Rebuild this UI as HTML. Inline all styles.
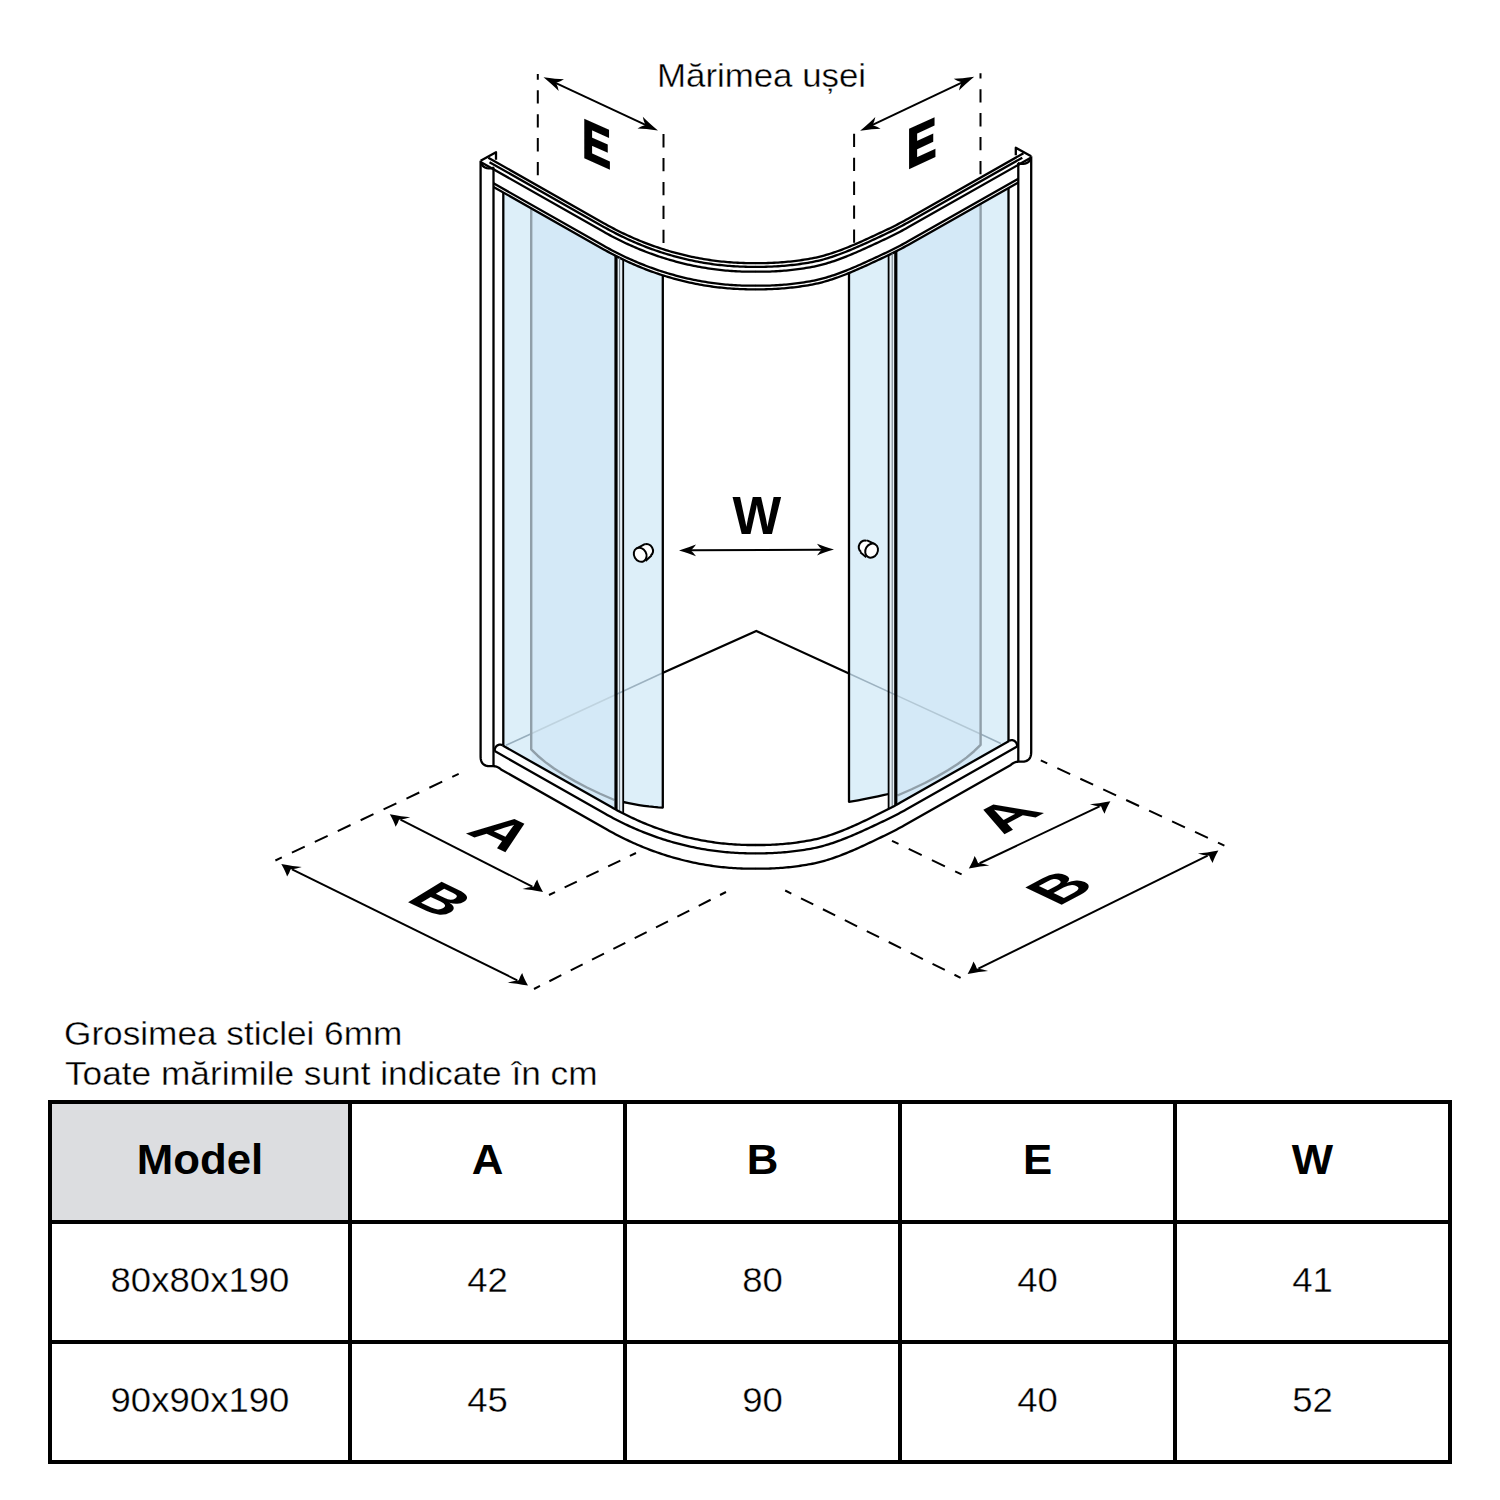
<!DOCTYPE html>
<html><head><meta charset="utf-8"><style>html,body{margin:0;padding:0;background:#fff;}svg{display:block}</style></head>
<body><svg width="1500" height="1500" viewBox="0 0 1500 1500">
<rect width="1500" height="1500" fill="#fff"/>
<path d="M503.3,192.45 L531.2,208.27 531.2,761.65 503.3,745.83 Z" fill="#ddeff9"/>
<path d="M531.2,208.27 L603.74,249.4 607.74,251.63 611.74,253.79 615.74,255.87 616,256 616,809.68 615.35,809.32 611.35,807.09 531.2,761.65 Z" fill="#d4e9f7"/>
<path d="M617,256.51 L623.2,259.57 623.2,813.47 617,810.22 Z" fill="#e6eff5"/>
<path d="M623.2,259.57 L626.2,260.99 629.2,262.37 632.2,263.71 635.2,265.02 638.2,266.29 641.2,267.52 644.2,268.71 647.2,269.87 650.2,270.99 653.2,272.08 656.2,273.13 659.2,274.15 662.2,275.13 662.8,275.32 662.8,807.6 658.29,807.34 653.65,806.95 648.89,806.44 644,805.8 638.99,805.04 633.85,804.15 628.59,803.14 623.2,802 Z" fill="#ddeff9"/>
<path d="M1008.5,187.95 L980.6,203.77 980.6,757.15 1008.5,741.33 Z" fill="#ddeff9"/>
<path d="M980.6,203.77 L908.06,244.9 904.06,247.13 900.06,249.29 896.06,251.37 895.8,251.5 895.8,805.18 896.45,804.82 900.45,802.59 980.6,757.15 Z" fill="#d4e9f7"/>
<path d="M894.8,252.01 L888.6,255.07 888.6,808.97 894.8,805.72 Z" fill="#e6eff5"/>
<path d="M888.6,255.07 L885.6,256.49 882.6,257.9 879.6,259.3 876.6,260.71 873.6,262.11 870.6,263.5 867.6,264.88 864.6,266.25 861.6,267.6 858.6,268.93 855.6,270.24 852.6,271.52 849.6,272.77 849,273.01 849,801.8 853.51,801.13 858.15,800.34 862.91,799.45 867.8,798.46 872.81,797.4 877.95,796.29 883.21,795.15 888.6,794 Z" fill="#ddeff9"/>
<path d="M506,745.3 L531.2,733.66" stroke="#98aebd" stroke-width="1.6" fill="none"/>
<path d="M531.2,733.66 L616,694.48" stroke="#bfd3df" stroke-width="1.6" fill="none"/>
<path d="M616,694.48 L662.5,673" stroke="#9db2c0" stroke-width="1.6" fill="none"/>
<path d="M848.4,673.2 L896,695.13" stroke="#9db2c0" stroke-width="1.6" fill="none"/>
<path d="M896,695.13 L980.5,734.05" stroke="#b3c8d5" stroke-width="1.6" fill="none"/>
<path d="M980.5,734.05 L1000.8,743.4" stroke="#98aebd" stroke-width="1.6" fill="none"/>
<path d="M662.5,673 L756.3,631 L848.4,673.2" stroke="#000" stroke-width="2.2" fill="none" stroke-linejoin="miter"/>
<path d="M531.2,208.27 L531.2,749.3 537.71,755.71 545.33,762.11 554.06,768.48 563.9,774.83 574.86,781.15 586.92,787.46 600.11,793.74 614.4,800" fill="none" stroke="#909fa9" stroke-width="2.4" stroke-linejoin="round" />
<path d="M480.6,160.7 L480.6,756.7 480.75,758.93 481.19,760.86 481.92,762.49 482.95,763.83 484.27,764.86 485.89,765.61 487.8,766.05 490,766.2 493.3,766.2 494.34,766.25 495.36,766.4 496.35,766.65 497.32,767.01 498.28,767.46 499.21,768.02 500.11,768.67 501,769.43 607.39,829.75 609.39,830.88 611.39,831.98 613.39,833.07 615.39,834.14 617.39,835.19 619.39,836.22 621.39,837.23 623.39,838.23 625.39,839.2 627.39,840.16 629.39,841.1 631.39,842.03 633.39,842.94 635.39,843.82 637.39,844.7 639.39,845.55 641.39,846.39 643.39,847.21 645.39,848.02 647.39,848.8 649.39,849.58 651.39,850.33 653.39,851.07 655.39,851.79 657.39,852.5 659.39,853.19 661.39,853.86 663.39,854.52 665.39,855.17 667.39,855.79 669.39,856.41 671.39,857 673.39,857.58 675.39,858.15 677.39,858.7 679.39,859.23 681.39,859.75 683.39,860.26 685.39,860.75 687.39,861.22 689.39,861.68 691.39,862.13 693.39,862.56 695.39,862.97 697.39,863.37 699.39,863.76 701.39,864.13 703.39,864.48 705.39,864.82 707.39,865.15 709.39,865.46 711.39,865.76 713.39,866.05 715.39,866.31 717.39,866.57 719.39,866.81 721.39,867.04 723.39,867.25 725.39,867.45 727.39,867.63 729.39,867.8 731.39,867.95 733.39,868.09 735.39,868.22 737.39,868.33 739.39,868.43 741.39,868.51 743.39,868.58 745.39,868.64 747.39,868.68 749.39,868.71 751.39,868.72 753.39,868.72 755.39,868.71 756,868.7" fill="none" stroke="#000" stroke-width="2.3" stroke-linejoin="round" />
<path d="M493.5,167.5 L493.5,766.2" fill="none" stroke="#000" stroke-width="2.3" stroke-linejoin="round" />
<path d="M480.6,160.7 L496,152.3 496,159.7" fill="none" stroke="#000" stroke-width="2.3" stroke-linejoin="round" stroke-linejoin="round"/>
<path d="M481,162.3 L481.43,163.77 482.11,165.06 483.02,166.15 484.14,167.04 485.44,167.71 486.9,168.16 488.51,168.37 490.25,168.34 492.08,168.05 494,167.5" fill="none" stroke="#000" stroke-width="2.3" stroke-linejoin="round" />
<path d="M488.3,157.74 L603.74,223.2 605.74,224.32 607.74,225.43 609.74,226.52 611.74,227.59 613.74,228.64 615.74,229.67 617.74,230.69 619.74,231.68 621.74,232.66 623.74,233.63 625.74,234.57 627.74,235.5 629.74,236.41 631.74,237.31 633.74,238.19 635.74,239.05 637.74,239.89 639.74,240.72 641.74,241.53 643.74,242.33 645.74,243.11 647.74,243.87 649.74,244.62 651.74,245.35 653.74,246.07 655.74,246.77 657.74,247.45 659.74,248.12 661.74,248.78 663.74,249.42 665.74,250.04 667.74,250.65 669.74,251.24 671.74,251.82 673.74,252.38 675.74,252.93 677.74,253.46 679.74,253.98 681.74,254.48 683.74,254.97 685.74,255.45 687.74,255.91 689.74,256.35 691.74,256.78 693.74,257.2 695.74,257.6 697.74,257.99 699.74,258.36 701.74,258.72 703.74,259.06 705.74,259.39 707.74,259.71 709.74,260.01 711.74,260.3 713.74,260.57 715.74,260.83 717.74,261.07 719.74,261.31 721.74,261.52 723.74,261.73 725.74,261.92 727.74,262.09 729.74,262.25 731.74,262.4 733.74,262.54 735.74,262.66 737.74,262.76 739.74,262.86 741.74,262.94 743.74,263 745.74,263.05 747.74,263.09 749.74,263.11 751.74,263.12 753.74,263.12 755.74,263.1 756,263.1" fill="none" stroke="#000" stroke-width="2.3" stroke-linejoin="round" />
<path d="M489.5,162.13 L603.74,226.9 605.74,228.02 607.74,229.13 609.74,230.22 611.74,231.29 613.74,232.34 615.74,233.37 617.74,234.39 619.74,235.38 621.74,236.36 623.74,237.33 625.74,238.27 627.74,239.2 629.74,240.11 631.74,241.01 633.74,241.89 635.74,242.75 637.74,243.59 639.74,244.42 641.74,245.23 643.74,246.03 645.74,246.81 647.74,247.57 649.74,248.32 651.74,249.05 653.74,249.77 655.74,250.47 657.74,251.15 659.74,251.82 661.74,252.48 663.74,253.12 665.74,253.74 667.74,254.35 669.74,254.94 671.74,255.52 673.74,256.08 675.74,256.63 677.74,257.16 679.74,257.68 681.74,258.18 683.74,258.67 685.74,259.15 687.74,259.61 689.74,260.05 691.74,260.48 693.74,260.9 695.74,261.3 697.74,261.69 699.74,262.06 701.74,262.42 703.74,262.76 705.74,263.09 707.74,263.41 709.74,263.71 711.74,264 713.74,264.27 715.74,264.53 717.74,264.77 719.74,265.01 721.74,265.22 723.74,265.43 725.74,265.62 727.74,265.79 729.74,265.95 731.74,266.1 733.74,266.24 735.74,266.36 737.74,266.46 739.74,266.56 741.74,266.64 743.74,266.7 745.74,266.75 747.74,266.79 749.74,266.81 751.74,266.82 753.74,266.82 755.74,266.8 756,266.8" fill="none" stroke="#000" stroke-width="2.3" stroke-linejoin="round" />
<path d="M480.6,161.98 L603.74,231.8 605.74,232.92 607.74,234.03 609.74,235.12 611.74,236.19 613.74,237.24 615.74,238.27 617.74,239.29 619.74,240.28 621.74,241.26 623.74,242.23 625.74,243.17 627.74,244.1 629.74,245.01 631.74,245.91 633.74,246.79 635.74,247.65 637.74,248.49 639.74,249.32 641.74,250.13 643.74,250.93 645.74,251.71 647.74,252.47 649.74,253.22 651.74,253.95 653.74,254.67 655.74,255.37 657.74,256.05 659.74,256.72 661.74,257.38 663.74,258.02 665.74,258.64 667.74,259.25 669.74,259.84 671.74,260.42 673.74,260.98 675.74,261.53 677.74,262.06 679.74,262.58 681.74,263.08 683.74,263.57 685.74,264.05 687.74,264.51 689.74,264.95 691.74,265.38 693.74,265.8 695.74,266.2 697.74,266.59 699.74,266.96 701.74,267.32 703.74,267.66 705.74,267.99 707.74,268.31 709.74,268.61 711.74,268.9 713.74,269.17 715.74,269.43 717.74,269.67 719.74,269.91 721.74,270.12 723.74,270.33 725.74,270.52 727.74,270.69 729.74,270.85 731.74,271 733.74,271.14 735.74,271.26 737.74,271.36 739.74,271.46 741.74,271.54 743.74,271.6 745.74,271.65 747.74,271.69 749.74,271.71 751.74,271.72 753.74,271.72 755.74,271.7 756,271.7" fill="none" stroke="#000" stroke-width="2.3" stroke-linejoin="round" />
<path d="M493.5,183.29 L603.74,245.8 605.74,246.92 607.74,248.03 609.74,249.12 611.74,250.19 613.74,251.24 615.74,252.27 617.74,253.29 619.74,254.28 621.74,255.26 623.74,256.23 625.74,257.17 627.74,258.1 629.74,259.01 631.74,259.91 633.74,260.79 635.74,261.65 637.74,262.49 639.74,263.32 641.74,264.13 643.74,264.93 645.74,265.71 647.74,266.47 649.74,267.22 651.74,267.95 653.74,268.67 655.74,269.37 657.74,270.05 659.74,270.72 661.74,271.38 663.74,272.02 665.74,272.64 667.74,273.25 669.74,273.84 671.74,274.42 673.74,274.98 675.74,275.53 677.74,276.06 679.74,276.58 681.74,277.08 683.74,277.57 685.74,278.05 687.74,278.51 689.74,278.95 691.74,279.38 693.74,279.8 695.74,280.2 697.74,280.59 699.74,280.96 701.74,281.32 703.74,281.66 705.74,281.99 707.74,282.31 709.74,282.61 711.74,282.9 713.74,283.17 715.74,283.43 717.74,283.67 719.74,283.91 721.74,284.12 723.74,284.33 725.74,284.52 727.74,284.69 729.74,284.85 731.74,285 733.74,285.14 735.74,285.26 737.74,285.36 739.74,285.46 741.74,285.54 743.74,285.6 745.74,285.65 747.74,285.69 749.74,285.71 751.74,285.72 753.74,285.72 755.74,285.7 756,285.7" fill="none" stroke="#000" stroke-width="2.3" stroke-linejoin="round" />
<path d="M493.5,186.89 L603.74,249.4 605.74,250.52 607.74,251.63 609.74,252.72 611.74,253.79 613.74,254.84 615.74,255.87 617.74,256.89 619.74,257.88 621.74,258.86 623.74,259.83 625.74,260.77 627.74,261.7 629.74,262.61 631.74,263.51 633.74,264.39 635.74,265.25 637.74,266.09 639.74,266.92 641.74,267.73 643.74,268.53 645.74,269.31 647.74,270.07 649.74,270.82 651.74,271.55 653.74,272.27 655.74,272.97 657.74,273.65 659.74,274.32 661.74,274.98 663.74,275.62 665.74,276.24 667.74,276.85 669.74,277.44 671.74,278.02 673.74,278.58 675.74,279.13 677.74,279.66 679.74,280.18 681.74,280.68 683.74,281.17 685.74,281.65 687.74,282.11 689.74,282.55 691.74,282.98 693.74,283.4 695.74,283.8 697.74,284.19 699.74,284.56 701.74,284.92 703.74,285.26 705.74,285.59 707.74,285.91 709.74,286.21 711.74,286.5 713.74,286.77 715.74,287.03 717.74,287.27 719.74,287.51 721.74,287.72 723.74,287.93 725.74,288.12 727.74,288.29 729.74,288.45 731.74,288.6 733.74,288.74 735.74,288.86 737.74,288.96 739.74,289.06 741.74,289.14 743.74,289.2 745.74,289.25 747.74,289.29 749.74,289.31 751.74,289.32 753.74,289.32 755.74,289.3 756,289.3" fill="none" stroke="#000" stroke-width="2.3" stroke-linejoin="round" />
<path d="M503.3,192.45 L503.3,745.83" fill="none" stroke="#000" stroke-width="2.3" stroke-linejoin="round" />
<path d="M616,256 L616,809.68" fill="none" stroke="#000" stroke-width="3.2" stroke-linejoin="round" />
<path d="M619.6,257.82 L619.6,811.6" fill="none" stroke="#6b7780" stroke-width="1.0" stroke-linejoin="round" />
<path d="M623.2,259.57 L623.2,813.47" fill="none" stroke="#000" stroke-width="1.8" stroke-linejoin="round" />
<path d="M662.8,275.32 L662.8,807.6 658.29,807.34 653.65,806.95 648.89,806.44 644,805.8 638.99,805.04 633.85,804.15 628.59,803.14 623.2,802" fill="none" stroke="#000" stroke-width="2.3" stroke-linejoin="round" />
<path d="M494.7,751.3 L494.7,749.84 494.98,748.52 495.51,747.36 496.23,746.38 497.12,745.6 498.14,745.04 499.25,744.71 500.4,744.63 501.56,744.82 502.7,745.3" fill="none" stroke="#000" stroke-width="2.3" stroke-linejoin="round" />
<path d="M502.7,745.49 L611.35,807.09 613.35,808.22 615.35,809.32 617.35,810.41 619.35,811.47 621.35,812.52 623.35,813.55 625.35,814.56 627.35,815.55 629.35,816.52 631.35,817.48 633.35,818.41 635.35,819.33 637.35,820.23 639.35,821.11 641.35,821.98 643.35,822.83 645.35,823.66 647.35,824.47 649.35,825.27 651.35,826.05 653.35,826.81 655.35,827.56 657.35,828.28 659.35,829 661.35,829.69 663.35,830.37 665.35,831.04 667.35,831.68 669.35,832.31 671.35,832.93 673.35,833.53 675.35,834.11 677.35,834.68 679.35,835.23 681.35,835.76 683.35,836.28 685.35,836.79 687.35,837.28 689.35,837.75 691.35,838.21 693.35,838.65 695.35,839.08 697.35,839.49 699.35,839.89 701.35,840.27 703.35,840.64 705.35,840.99 707.35,841.33 709.35,841.65 711.35,841.96 713.35,842.25 715.35,842.53 717.35,842.79 719.35,843.04 721.35,843.27 723.35,843.49 725.35,843.7 727.35,843.89 729.35,844.06 731.35,844.22 733.35,844.37 735.35,844.5 737.35,844.61 739.35,844.71 741.35,844.8 743.35,844.87 745.35,844.93 747.35,844.98 749.35,845.01 751.35,845.02 753.35,845.02 755.35,845.01 756,845" fill="none" stroke="#000" stroke-width="2.3" stroke-linejoin="round" />
<path d="M494.7,751.11 L605.26,813.8 607.26,814.92 609.26,816.03 611.26,817.11 613.26,818.18 615.26,819.23 617.26,820.27 619.26,821.28 621.26,822.28 623.26,823.26 625.26,824.22 627.26,825.16 629.26,826.09 631.26,827 633.26,827.89 635.26,828.77 637.26,829.62 639.26,830.47 641.26,831.29 643.26,832.1 645.26,832.89 647.26,833.67 649.26,834.43 651.26,835.17 653.26,835.9 655.26,836.62 657.26,837.31 659.26,837.99 661.26,838.66 663.26,839.31 665.26,839.94 667.26,840.56 669.26,841.16 671.26,841.75 673.26,842.32 675.26,842.88 677.26,843.42 679.26,843.95 681.26,844.46 683.26,844.96 685.26,845.44 687.26,845.91 689.26,846.37 691.26,846.8 693.26,847.23 695.26,847.64 697.26,848.03 699.26,848.41 701.26,848.78 703.26,849.13 705.26,849.47 707.26,849.79 709.26,850.1 711.26,850.39 713.26,850.67 715.26,850.94 717.26,851.19 719.26,851.43 721.26,851.65 723.26,851.86 725.26,852.06 727.26,852.24 729.26,852.4 731.26,852.56 733.26,852.7 735.26,852.82 737.26,852.93 739.26,853.03 741.26,853.11 743.26,853.18 745.26,853.24 747.26,853.28 749.26,853.31 751.26,853.32 753.26,853.32 755.26,853.31 756,853.3" fill="none" stroke="#000" stroke-width="2.3" stroke-linejoin="round" />
<path d="M980.6,203.77 L980.6,744.8 974.09,751.21 966.47,757.61 957.74,763.98 947.9,770.33 936.94,776.65 924.88,782.96 911.69,789.24 897.4,795.5" fill="none" stroke="#909fa9" stroke-width="2.4" stroke-linejoin="round" />
<path d="M1031.2,156.2 L1031.2,752.2 1031.05,754.43 1030.61,756.36 1029.88,757.99 1028.85,759.33 1027.53,760.36 1025.91,761.11 1024,761.55 1021.8,761.7 1018.5,761.7 1017.46,761.75 1016.44,761.9 1015.45,762.15 1014.47,762.51 1013.52,762.96 1012.59,763.52 1011.69,764.17 1010.8,764.93 904.41,825.25 902.41,826.38 900.41,827.48 898.41,828.57 896.41,829.64 894.41,830.69 892.41,831.72 890.41,832.73 888.41,833.73 886.41,834.7 884.41,835.67 882.41,836.63 880.41,837.6 878.41,838.56 876.41,839.52 874.41,840.48 872.41,841.44 870.41,842.39 868.41,843.33 866.41,844.27 864.41,845.2 862.41,846.12 860.41,847.04 858.41,847.94 856.41,848.83 854.41,849.71 852.41,850.58 850.41,851.43 848.41,852.27 846.41,853.1 844.41,853.9 842.41,854.69 840.41,855.46 838.41,856.21 836.41,856.94 834.41,857.65 832.41,858.34 830.41,859 828.41,859.64 826.41,860.25 824.41,860.84 822.41,861.4 820.41,861.93 818.41,862.43 816.41,862.9 814.41,863.34 812.41,863.75 810.41,864.13 808.41,864.48 806.41,864.82 804.41,865.15 802.41,865.46 800.41,865.76 798.41,866.05 796.41,866.31 794.41,866.57 792.41,866.81 790.41,867.04 788.41,867.25 786.41,867.45 784.41,867.63 782.41,867.8 780.41,867.95 778.41,868.09 776.41,868.22 774.41,868.33 772.41,868.43 770.41,868.51 768.41,868.58 766.41,868.64 764.41,868.68 762.41,868.71 760.41,868.72 758.41,868.72 756.41,868.71 755.8,868.7" fill="none" stroke="#000" stroke-width="2.3" stroke-linejoin="round" />
<path d="M1018.3,163 L1018.3,761.7" fill="none" stroke="#000" stroke-width="2.3" stroke-linejoin="round" />
<path d="M1031.2,156.2 L1015.8,147.8 1015.8,155.2" fill="none" stroke="#000" stroke-width="2.3" stroke-linejoin="round" stroke-linejoin="round"/>
<path d="M1030.8,157.8 L1030.37,159.27 1029.69,160.56 1028.78,161.65 1027.66,162.54 1026.36,163.21 1024.9,163.66 1023.29,163.87 1021.55,163.84 1019.72,163.55 1017.8,163" fill="none" stroke="#000" stroke-width="2.3" stroke-linejoin="round" />
<path d="M1023.5,153.24 L908.06,218.7 906.06,219.82 904.06,220.93 902.06,222.02 900.06,223.09 898.06,224.14 896.06,225.17 894.06,226.19 892.06,227.18 890.06,228.16 888.06,229.13 886.06,230.07 884.06,231.01 882.06,231.95 880.06,232.89 878.06,233.82 876.06,234.76 874.06,235.69 872.06,236.62 870.06,237.55 868.06,238.47 866.06,239.39 864.06,240.29 862.06,241.2 860.06,242.09 858.06,242.97 856.06,243.84 854.06,244.7 852.06,245.54 850.06,246.38 848.06,247.2 846.06,248 844.06,248.79 842.06,249.55 840.06,250.31 838.06,251.04 836.06,251.75 834.06,252.44 832.06,253.11 830.06,253.75 828.06,254.37 826.06,254.97 824.06,255.54 822.06,256.08 820.06,256.6 818.06,257.08 816.06,257.54 814.06,257.96 812.06,258.35 810.06,258.72 808.06,259.06 806.06,259.39 804.06,259.71 802.06,260.01 800.06,260.3 798.06,260.57 796.06,260.83 794.06,261.07 792.06,261.31 790.06,261.52 788.06,261.73 786.06,261.92 784.06,262.09 782.06,262.25 780.06,262.4 778.06,262.54 776.06,262.66 774.06,262.76 772.06,262.86 770.06,262.94 768.06,263 766.06,263.05 764.06,263.09 762.06,263.11 760.06,263.12 758.06,263.12 756.06,263.1 755.8,263.1" fill="none" stroke="#000" stroke-width="2.3" stroke-linejoin="round" />
<path d="M1022.3,157.63 L908.06,222.4 906.06,223.52 904.06,224.63 902.06,225.72 900.06,226.79 898.06,227.84 896.06,228.87 894.06,229.89 892.06,230.88 890.06,231.86 888.06,232.83 886.06,233.77 884.06,234.71 882.06,235.65 880.06,236.59 878.06,237.52 876.06,238.46 874.06,239.39 872.06,240.32 870.06,241.25 868.06,242.17 866.06,243.09 864.06,243.99 862.06,244.9 860.06,245.79 858.06,246.67 856.06,247.54 854.06,248.4 852.06,249.24 850.06,250.08 848.06,250.9 846.06,251.7 844.06,252.49 842.06,253.25 840.06,254.01 838.06,254.74 836.06,255.45 834.06,256.14 832.06,256.81 830.06,257.45 828.06,258.07 826.06,258.67 824.06,259.24 822.06,259.78 820.06,260.3 818.06,260.78 816.06,261.24 814.06,261.66 812.06,262.05 810.06,262.42 808.06,262.76 806.06,263.09 804.06,263.41 802.06,263.71 800.06,264 798.06,264.27 796.06,264.53 794.06,264.77 792.06,265.01 790.06,265.22 788.06,265.43 786.06,265.62 784.06,265.79 782.06,265.95 780.06,266.1 778.06,266.24 776.06,266.36 774.06,266.46 772.06,266.56 770.06,266.64 768.06,266.7 766.06,266.75 764.06,266.79 762.06,266.81 760.06,266.82 758.06,266.82 756.06,266.8 755.8,266.8" fill="none" stroke="#000" stroke-width="2.3" stroke-linejoin="round" />
<path d="M1031.2,157.48 L908.06,227.3 906.06,228.42 904.06,229.53 902.06,230.62 900.06,231.69 898.06,232.74 896.06,233.77 894.06,234.79 892.06,235.78 890.06,236.76 888.06,237.73 886.06,238.67 884.06,239.61 882.06,240.55 880.06,241.49 878.06,242.42 876.06,243.36 874.06,244.29 872.06,245.22 870.06,246.15 868.06,247.07 866.06,247.99 864.06,248.89 862.06,249.8 860.06,250.69 858.06,251.57 856.06,252.44 854.06,253.3 852.06,254.14 850.06,254.98 848.06,255.8 846.06,256.6 844.06,257.39 842.06,258.15 840.06,258.91 838.06,259.64 836.06,260.35 834.06,261.04 832.06,261.71 830.06,262.35 828.06,262.97 826.06,263.57 824.06,264.14 822.06,264.68 820.06,265.2 818.06,265.68 816.06,266.14 814.06,266.56 812.06,266.95 810.06,267.32 808.06,267.66 806.06,267.99 804.06,268.31 802.06,268.61 800.06,268.9 798.06,269.17 796.06,269.43 794.06,269.67 792.06,269.91 790.06,270.12 788.06,270.33 786.06,270.52 784.06,270.69 782.06,270.85 780.06,271 778.06,271.14 776.06,271.26 774.06,271.36 772.06,271.46 770.06,271.54 768.06,271.6 766.06,271.65 764.06,271.69 762.06,271.71 760.06,271.72 758.06,271.72 756.06,271.7 755.8,271.7" fill="none" stroke="#000" stroke-width="2.3" stroke-linejoin="round" />
<path d="M1018.3,178.79 L908.06,241.3 906.06,242.42 904.06,243.53 902.06,244.62 900.06,245.69 898.06,246.74 896.06,247.77 894.06,248.79 892.06,249.78 890.06,250.76 888.06,251.73 886.06,252.67 884.06,253.61 882.06,254.55 880.06,255.49 878.06,256.42 876.06,257.36 874.06,258.29 872.06,259.22 870.06,260.15 868.06,261.07 866.06,261.99 864.06,262.89 862.06,263.8 860.06,264.69 858.06,265.57 856.06,266.44 854.06,267.3 852.06,268.14 850.06,268.98 848.06,269.8 846.06,270.6 844.06,271.39 842.06,272.15 840.06,272.91 838.06,273.64 836.06,274.35 834.06,275.04 832.06,275.71 830.06,276.35 828.06,276.97 826.06,277.57 824.06,278.14 822.06,278.68 820.06,279.2 818.06,279.68 816.06,280.14 814.06,280.56 812.06,280.95 810.06,281.32 808.06,281.66 806.06,281.99 804.06,282.31 802.06,282.61 800.06,282.9 798.06,283.17 796.06,283.43 794.06,283.67 792.06,283.91 790.06,284.12 788.06,284.33 786.06,284.52 784.06,284.69 782.06,284.85 780.06,285 778.06,285.14 776.06,285.26 774.06,285.36 772.06,285.46 770.06,285.54 768.06,285.6 766.06,285.65 764.06,285.69 762.06,285.71 760.06,285.72 758.06,285.72 756.06,285.7 755.8,285.7" fill="none" stroke="#000" stroke-width="2.3" stroke-linejoin="round" />
<path d="M1018.3,182.39 L908.06,244.9 906.06,246.02 904.06,247.13 902.06,248.22 900.06,249.29 898.06,250.34 896.06,251.37 894.06,252.39 892.06,253.38 890.06,254.36 888.06,255.33 886.06,256.27 884.06,257.21 882.06,258.15 880.06,259.09 878.06,260.02 876.06,260.96 874.06,261.89 872.06,262.82 870.06,263.75 868.06,264.67 866.06,265.59 864.06,266.49 862.06,267.4 860.06,268.29 858.06,269.17 856.06,270.04 854.06,270.9 852.06,271.74 850.06,272.58 848.06,273.4 846.06,274.2 844.06,274.99 842.06,275.75 840.06,276.51 838.06,277.24 836.06,277.95 834.06,278.64 832.06,279.31 830.06,279.95 828.06,280.57 826.06,281.17 824.06,281.74 822.06,282.28 820.06,282.8 818.06,283.28 816.06,283.74 814.06,284.16 812.06,284.55 810.06,284.92 808.06,285.26 806.06,285.59 804.06,285.91 802.06,286.21 800.06,286.5 798.06,286.77 796.06,287.03 794.06,287.27 792.06,287.51 790.06,287.72 788.06,287.93 786.06,288.12 784.06,288.29 782.06,288.45 780.06,288.6 778.06,288.74 776.06,288.86 774.06,288.96 772.06,289.06 770.06,289.14 768.06,289.2 766.06,289.25 764.06,289.29 762.06,289.31 760.06,289.32 758.06,289.32 756.06,289.3 755.8,289.3" fill="none" stroke="#000" stroke-width="2.3" stroke-linejoin="round" />
<path d="M1008.5,187.95 L1008.5,741.33" fill="none" stroke="#000" stroke-width="2.3" stroke-linejoin="round" />
<path d="M895.8,251.5 L895.8,805.18" fill="none" stroke="#000" stroke-width="3.2" stroke-linejoin="round" />
<path d="M892.2,253.32 L892.2,807.1" fill="none" stroke="#6b7780" stroke-width="1.0" stroke-linejoin="round" />
<path d="M888.6,255.07 L888.6,808.97" fill="none" stroke="#000" stroke-width="1.8" stroke-linejoin="round" />
<path d="M849,273.01 L849,801.8 853.51,801.13 858.15,800.34 862.91,799.45 867.8,798.46 872.81,797.4 877.95,796.29 883.21,795.15 888.6,794" fill="none" stroke="#000" stroke-width="2.3" stroke-linejoin="round" />
<path d="M1017.1,746.8 L1017.1,745.34 1016.82,744.02 1016.29,742.86 1015.57,741.88 1014.67,741.1 1013.66,740.54 1012.55,740.21 1011.4,740.13 1010.24,740.32 1009.1,740.8" fill="none" stroke="#000" stroke-width="2.3" stroke-linejoin="round" />
<path d="M1009.1,740.99 L900.45,802.59 898.45,803.72 896.45,804.82 894.45,805.91 892.45,806.97 890.45,808.02 888.45,809.05 886.45,810.06 884.45,811.05 882.45,812.05 880.45,813.04 878.45,814.04 876.45,815.03 874.45,816.01 872.45,817 870.45,817.97 868.45,818.94 866.45,819.91 864.45,820.87 862.45,821.81 860.45,822.75 858.45,823.68 856.45,824.59 854.45,825.49 852.45,826.38 850.45,827.26 848.45,828.12 846.45,828.96 844.45,829.79 842.45,830.59 840.45,831.38 838.45,832.15 836.45,832.9 834.45,833.62 832.45,834.33 830.45,835.01 828.45,835.66 826.45,836.29 824.45,836.89 822.45,837.46 820.45,838.01 818.45,838.53 816.45,839.01 814.45,839.46 812.45,839.88 810.45,840.27 808.45,840.64 806.45,840.99 804.45,841.33 802.45,841.65 800.45,841.96 798.45,842.25 796.45,842.53 794.45,842.79 792.45,843.04 790.45,843.27 788.45,843.49 786.45,843.7 784.45,843.89 782.45,844.06 780.45,844.22 778.45,844.37 776.45,844.5 774.45,844.61 772.45,844.71 770.45,844.8 768.45,844.87 766.45,844.93 764.45,844.98 762.45,845.01 760.45,845.02 758.45,845.02 756.45,845.01 755.8,845" fill="none" stroke="#000" stroke-width="2.3" stroke-linejoin="round" />
<path d="M1017.1,746.61 L906.54,809.3 904.54,810.42 902.54,811.53 900.54,812.61 898.54,813.68 896.54,814.73 894.54,815.77 892.54,816.78 890.54,817.78 888.54,818.76 886.54,819.72 884.54,820.67 882.54,821.61 880.54,822.56 878.54,823.51 876.54,824.46 874.54,825.4 872.54,826.34 870.54,827.28 868.54,828.21 866.54,829.14 864.54,830.06 862.54,830.97 860.54,831.87 858.54,832.76 856.54,833.64 854.54,834.51 852.54,835.37 850.54,836.22 848.54,837.04 846.54,837.86 844.54,838.66 842.54,839.44 840.54,840.2 838.54,840.94 836.54,841.66 834.54,842.36 832.54,843.04 830.54,843.7 828.54,844.33 826.54,844.94 824.54,845.52 822.54,846.07 820.54,846.6 818.54,847.1 816.54,847.57 814.54,848 812.54,848.41 810.54,848.78 808.54,849.13 806.54,849.47 804.54,849.79 802.54,850.1 800.54,850.39 798.54,850.67 796.54,850.94 794.54,851.19 792.54,851.43 790.54,851.65 788.54,851.86 786.54,852.06 784.54,852.24 782.54,852.4 780.54,852.56 778.54,852.7 776.54,852.82 774.54,852.93 772.54,853.03 770.54,853.11 768.54,853.18 766.54,853.24 764.54,853.28 762.54,853.31 760.54,853.32 758.54,853.32 756.54,853.31 755.8,853.3" fill="none" stroke="#000" stroke-width="2.3" stroke-linejoin="round" />
<g fill="#fff" stroke="#000" stroke-width="2"><ellipse cx="647.6" cy="550" rx="5.2" ry="6.2" transform="rotate(-30 647.6 550)"/><path d="M637.5,548 645,544.2 651,556 644.5,560.8Z" stroke="none"/><path d="M636.8,548.3 L644.8,544.1 M645.5,561 L651.5,555.5" fill="none"/><ellipse cx="640.2" cy="554.7" rx="6.1" ry="7.3" transform="rotate(-30 640.2 554.7)"/></g>
<g fill="#fff" stroke="#000" stroke-width="2"><ellipse cx="864.2" cy="546.41" rx="5.2" ry="6.2" transform="rotate(30 864.2 546.41)"/><path d="M874.3,543.79 866.8,540.43 860.8,552.67 867.3,556.99Z" stroke="none"/><path d="M875,544.06 L867,540.31 M866.3,557.26 L860.3,552.21" fill="none"/><ellipse cx="871.6" cy="550.63" rx="6.1" ry="7.3" transform="rotate(30 871.6 550.63)"/></g>
<path d="M537.8,73.9 L537.8,175.3" stroke="#000" stroke-width="2" fill="none" stroke-dasharray="13.3 10.6" stroke-dashoffset="7.5"/>
<path d="M663.5,134 L663.5,243" stroke="#000" stroke-width="2" fill="none" stroke-dasharray="13.3 10.6" stroke-dashoffset="23.8"/>
<path d="M554.38,82.36 L647.12,125.54" stroke="#000" stroke-width="2" fill="none"/>
<path d="M543.5,77.3 Q556.27,79.06 564,79.3 Q560.8,81.42 556,82.83 Q558.15,87.32 558.7,91.1 Q553.36,85.55 543.5,77.3Z" fill="#000"/>
<path d="M658,130.6 Q645.23,128.84 637.5,128.6 Q640.7,126.48 645.5,125.07 Q643.35,120.58 642.8,116.8 Q648.14,122.35 658,130.6Z" fill="#000"/>
<path d="M854.1,133.5 L854.1,242.7" stroke="#000" stroke-width="2" fill="none" stroke-dasharray="13.3 10.6" stroke-dashoffset="23.6"/>
<path d="M980.5,73.3 L980.5,174.2" stroke="#000" stroke-width="2" fill="none" stroke-dasharray="13.3 10.6" stroke-dashoffset="8"/>
<path d="M870.95,125.57 L963.35,81.93" stroke="#000" stroke-width="2" fill="none"/>
<path d="M860.1,130.7 Q872.87,128.94 880.6,128.7 Q877.4,126.58 872.6,125.17 Q874.75,120.68 875.3,116.9 Q869.96,122.45 860.1,130.7Z" fill="#000"/>
<path d="M974.2,76.8 Q961.43,78.56 953.7,78.8 Q956.9,80.92 961.71,82.33 Q959.55,86.82 959,90.6 Q964.34,85.05 974.2,76.8Z" fill="#000"/>
<path d="M691,550.34 L822,549.66" stroke="#000" stroke-width="2" fill="none"/>
<path d="M679,550.4 Q689.78,547.21 696,544.6 Q694.22,547.5 690.9,550.4 Q694.22,553.3 696,556.2 Q689.78,553.59 679,550.4Z" fill="#000"/>
<path d="M834,549.6 Q823.22,552.79 817,555.4 Q818.78,552.5 822.1,549.6 Q818.78,546.7 817,543.8 Q823.22,546.41 834,549.6Z" fill="#000"/>
<path d="M458.7,773.9 L275.4,860.5" stroke="#000" stroke-width="2" fill="none" stroke-dasharray="14.19 11.15" stroke-dashoffset="7.1"/>
<path d="M400.5,819.73 L532.3,886.57" stroke="#000" stroke-width="2" fill="none"/>
<path d="M389.8,814.3 Q402.18,816.6 410.3,817.3 Q405.24,818.86 399,819.72 Q397.89,823.61 395.6,826.8 Q394.09,821.83 389.8,814.3Z" fill="#000"/>
<path d="M543,892 Q530.62,889.7 522.5,889 Q527.56,887.44 533.79,886.58 Q534.91,882.69 537.2,879.5 Q538.71,884.47 543,892Z" fill="#000"/>
<path d="M292.07,869.4 L517.23,980.3" stroke="#000" stroke-width="2" fill="none"/>
<path d="M281.3,864.1 Q293.68,866.4 301.8,867.1 Q296.74,868.66 290.5,869.52 Q289.39,873.41 287.1,876.6 Q285.59,871.63 281.3,864.1Z" fill="#000"/>
<path d="M528,985.6 Q515.62,983.3 507.5,982.6 Q512.56,981.04 518.79,980.18 Q519.91,976.29 522.2,973.1 Q523.71,978.07 528,985.6Z" fill="#000"/>
<path d="M636,853 L549,895" stroke="#000" stroke-width="2" fill="none" stroke-dasharray="13.53 10.63" stroke-dashoffset="6.76"/>
<path d="M726,892 L534,989" stroke="#000" stroke-width="2" fill="none" stroke-dasharray="13.38 10.52" stroke-dashoffset="6.69"/>
<path d="M1040.8,760.4 L1224.4,845.6" stroke="#000" stroke-width="2" fill="none" stroke-dasharray="14.17 11.13" stroke-dashoffset="7.08"/>
<path d="M979.64,863.26 L1099.56,806.34" stroke="#000" stroke-width="2" fill="none"/>
<path d="M968.8,868.4 Q981.18,866.1 989.3,865.4 Q984.24,863.84 978,862.98 Q976.89,859.09 974.6,855.9 Q973.09,860.87 968.8,868.4Z" fill="#000"/>
<path d="M1110.4,801.2 Q1098.02,803.5 1089.9,804.2 Q1094.96,805.76 1101.2,806.62 Q1102.31,810.51 1104.6,813.7 Q1106.11,808.73 1110.4,801.2Z" fill="#000"/>
<path d="M978.36,968.7 L1207.64,855.7" stroke="#000" stroke-width="2" fill="none"/>
<path d="M967.6,974 Q979.98,971.7 988.1,971 Q983.04,969.44 976.81,968.58 Q975.69,964.69 973.4,961.5 Q971.89,966.47 967.6,974Z" fill="#000"/>
<path d="M1218.4,850.4 Q1206.02,852.7 1197.9,853.4 Q1202.96,854.96 1209.2,855.82 Q1210.31,859.71 1212.6,862.9 Q1214.11,857.93 1218.4,850.4Z" fill="#000"/>
<path d="M892,840.8 L961.6,874.4" stroke="#000" stroke-width="2" fill="none" stroke-dasharray="14.43 11.34" stroke-dashoffset="7.21"/>
<path d="M785.2,890.5 L960.6,977.8" stroke="#000" stroke-width="2" fill="none" stroke-dasharray="13.71 10.78" stroke-dashoffset="6.86"/>
<text transform="matrix(0.427,0.19,0,0.544,582.3,156.25)" font-family="Liberation Sans" font-weight="bold" font-size="100" stroke="#000" stroke-width="4">E</text>
<text transform="matrix(0.439,-0.2015,0,0.554,906.9,168.9)" font-family="Liberation Sans" font-weight="bold" font-size="100" stroke="#000" stroke-width="4">E</text>
<text transform="matrix(0.516,0,0,0.529,732.4,533.6)" font-family="Liberation Sans" font-weight="bold" font-size="100">W</text>
<text transform="matrix(0.588,0.28,-0.49,0.312,464.5,832.8)" font-family="Liberation Sans" font-weight="bold" font-size="100">A</text>
<text transform="matrix(0.54,0.258,-0.487,0.297,404.6,900.4)" font-family="Liberation Sans" font-weight="bold" font-size="100">B</text>
<text transform="matrix(0.589,-0.315,0.523,0.239,1003,835)" font-family="Liberation Sans" font-weight="bold" font-size="100">A</text>
<text transform="matrix(0.548,-0.293,0.528,0.251,1057.9,906.65)" font-family="Liberation Sans" font-weight="bold" font-size="100">B</text>
<text transform="translate(657,87.2) scale(1.056,1)" font-family="Liberation Sans" font-weight="normal" font-size="33" text-anchor="start" stroke="#fff" stroke-width="0.35">Mărimea ușei</text>
<text transform="translate(64,1045.2) scale(1.067,1)" font-family="Liberation Sans" font-weight="normal" font-size="33" text-anchor="start" stroke="#fff" stroke-width="0.35">Grosimea sticlei 6mm</text>
<text transform="translate(65,1084.6) scale(1.068,1)" font-family="Liberation Sans" font-weight="normal" font-size="33" text-anchor="start" stroke="#fff" stroke-width="0.35">Toate mărimile sunt indicate în cm</text>
<rect x="52" y="1104" width="296" height="116" fill="#dcdde0"/>
<rect x="48" y="1100" width="4" height="364" fill="#000"/>
<rect x="348" y="1100" width="4" height="364" fill="#000"/>
<rect x="623" y="1100" width="4" height="364" fill="#000"/>
<rect x="898" y="1100" width="4" height="364" fill="#000"/>
<rect x="1173" y="1100" width="4" height="364" fill="#000"/>
<rect x="1448" y="1100" width="4" height="364" fill="#000"/>
<rect x="48" y="1100" width="1404" height="4" fill="#000"/>
<rect x="48" y="1220" width="1404" height="4" fill="#000"/>
<rect x="48" y="1340" width="1404" height="4" fill="#000"/>
<rect x="48" y="1460" width="1404" height="4" fill="#000"/>
<text transform="translate(200,1174.3) scale(1.03,1)" font-family="Liberation Sans" font-weight="bold" font-size="42.5" text-anchor="middle">Model</text>
<text transform="translate(487.5,1174.3) scale(1.03,1)" font-family="Liberation Sans" font-weight="bold" font-size="42.5" text-anchor="middle">A</text>
<text transform="translate(762.5,1174.3) scale(1.03,1)" font-family="Liberation Sans" font-weight="bold" font-size="42.5" text-anchor="middle">B</text>
<text transform="translate(1037.5,1174.3) scale(1.03,1)" font-family="Liberation Sans" font-weight="bold" font-size="42.5" text-anchor="middle">E</text>
<text transform="translate(1312.5,1174.3) scale(1.03,1)" font-family="Liberation Sans" font-weight="bold" font-size="42.5" text-anchor="middle">W</text>
<text transform="translate(200,1291.6) scale(1.06,1)" font-family="Liberation Sans" font-weight="normal" font-size="34.5" text-anchor="middle" stroke="#fff" stroke-width="0.35">80x80x190</text>
<text transform="translate(487.5,1291.6) scale(1.06,1)" font-family="Liberation Sans" font-weight="normal" font-size="34.5" text-anchor="middle" stroke="#fff" stroke-width="0.35">42</text>
<text transform="translate(762.5,1291.6) scale(1.06,1)" font-family="Liberation Sans" font-weight="normal" font-size="34.5" text-anchor="middle" stroke="#fff" stroke-width="0.35">80</text>
<text transform="translate(1037.5,1291.6) scale(1.06,1)" font-family="Liberation Sans" font-weight="normal" font-size="34.5" text-anchor="middle" stroke="#fff" stroke-width="0.35">40</text>
<text transform="translate(1312.5,1291.6) scale(1.06,1)" font-family="Liberation Sans" font-weight="normal" font-size="34.5" text-anchor="middle" stroke="#fff" stroke-width="0.35">41</text>
<text transform="translate(200,1411.6) scale(1.06,1)" font-family="Liberation Sans" font-weight="normal" font-size="34.5" text-anchor="middle" stroke="#fff" stroke-width="0.35">90x90x190</text>
<text transform="translate(487.5,1411.6) scale(1.06,1)" font-family="Liberation Sans" font-weight="normal" font-size="34.5" text-anchor="middle" stroke="#fff" stroke-width="0.35">45</text>
<text transform="translate(762.5,1411.6) scale(1.06,1)" font-family="Liberation Sans" font-weight="normal" font-size="34.5" text-anchor="middle" stroke="#fff" stroke-width="0.35">90</text>
<text transform="translate(1037.5,1411.6) scale(1.06,1)" font-family="Liberation Sans" font-weight="normal" font-size="34.5" text-anchor="middle" stroke="#fff" stroke-width="0.35">40</text>
<text transform="translate(1312.5,1411.6) scale(1.06,1)" font-family="Liberation Sans" font-weight="normal" font-size="34.5" text-anchor="middle" stroke="#fff" stroke-width="0.35">52</text>
</svg></body></html>
